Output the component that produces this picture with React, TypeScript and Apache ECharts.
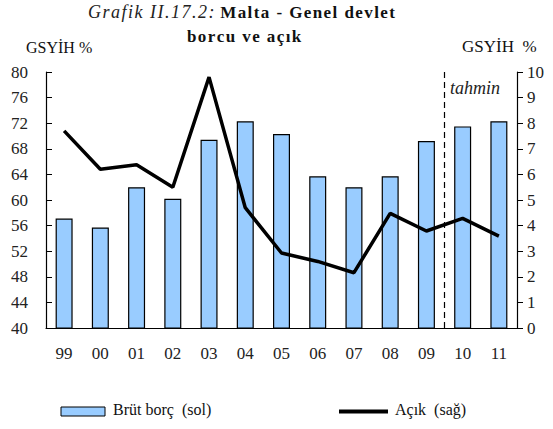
import React, { useEffect, useRef } from "react";
import * as echarts from "echarts";

const categories = ["99", "00", "01", "02", "03", "04", "05", "06", "07", "08", "09", "10", "11"];
const grossDebt = [57.1, 55.7, 62.0, 60.2, 69.4, 72.3, 70.3, 63.7, 62.0, 63.7, 69.2, 71.5, 72.3];
const deficit = [7.7, 6.2, 6.38, 5.5, 9.8, 4.7, 2.93, 2.6, 2.16, 4.48, 3.79, 4.28, 3.59];
const lastActual = "09";
const forecastStart = "10";

const FONT = "'Liberation Serif', 'Times New Roman', serif";
const GRID = { left: 46, right: 36, top: 72, bottom: 101 };
const spaced = (s: string) => s.split("").join("\u200A");

export default function App() {
  const ref = useRef<HTMLDivElement>(null);
  useEffect(() => {
    if (!ref.current) return;
    const chart = echarts.init(ref.current, undefined, { renderer: "svg" });
    const staticGraphics: any[] = [
      {
        type: "text",
        left: 88,
        top: 3,
        style: {
          text: "{i|" + spaced("Grafik II.17.2:") + "}{b|" + spaced(" Malta - Genel devlet") + "}",
          rich: {
            i: { fontFamily: FONT, fontStyle: "italic", fontSize: 18, fill: "#222" },
            b: { fontFamily: FONT, fontWeight: "bold", fontSize: 17, fill: "#111" },
          },
        },
      },
      {
        type: "text",
        left: 187,
        top: 28,
        style: { text: spaced("borcu ve açık"), fontFamily: FONT, fontWeight: "bold", fontSize: 17, fill: "#111" },
      },
      {
        type: "text",
        left: 26,
        top: 39,
        style: { text: "GSYİH %", fontFamily: FONT, fontSize: 16, fill: "#111" },
      },
      {
        type: "text",
        left: 462,
        top: 38,
        style: { text: "GSYİH  %", fontFamily: FONT, fontSize: 17, fill: "#111" },
      },
      {
        type: "text",
        left: 450,
        top: 79,
        style: { text: "tahmin", fontFamily: FONT, fontStyle: "italic", fontSize: 18, fill: "#222" },
      },
      {
        type: "rect",
        shape: { x: 61, y: 407, width: 44, height: 9 },
        style: { fill: "#99ccff", stroke: "#000", lineWidth: 1 },
      },
      {
        type: "text",
        left: 113,
        top: 401,
        style: { text: "Brüt borç  (sol)", fontFamily: FONT, fontSize: 16, fill: "#111" },
      },
      {
        type: "line",
        shape: { x1: 339, y1: 411.5, x2: 388, y2: 411.5 },
        style: { stroke: "#000", lineWidth: 4 },
      },
      {
        type: "text",
        left: 395,
        top: 401,
        style: { text: "Açık  (sağ)", fontFamily: FONT, fontSize: 16, fill: "#111" },
      },
    ];
    chart.setOption({
      animation: false,
      textStyle: { fontFamily: FONT },
      grid: GRID,
      legend: { show: false },
      graphic: staticGraphics,
      xAxis: {
        type: "category",
        data: categories,
        boundaryGap: true,
        axisLine: { lineStyle: { color: "#000", width: 1.2 } },
        axisTick: { inside: true, length: 5, lineStyle: { color: "#000" } },
        axisLabel: { color: "#222", fontSize: 17, fontFamily: FONT, margin: 17 },
      },
      yAxis: [
        {
          type: "value",
          min: 40,
          max: 80,
          interval: 4,
          position: "left",
          splitLine: { show: false },
          axisLine: { show: true, lineStyle: { color: "#000", width: 1.2 } },
          axisTick: { show: true, inside: true, length: 6, lineStyle: { color: "#000" } },
          axisLabel: { color: "#222", fontSize: 17, fontFamily: FONT, margin: 18 },
        },
        {
          type: "value",
          min: 0,
          max: 10,
          interval: 1,
          position: "right",
          splitLine: { show: false },
          axisLine: { show: true, lineStyle: { color: "#000", width: 1.2 } },
          axisTick: { show: true, inside: false, length: 6, lineStyle: { color: "#000" } },
          axisLabel: { color: "#222", fontSize: 17, fontFamily: FONT, margin: 10 },
        },
      ],
      series: [
        {
          name: "Brüt borç (sol)",
          type: "bar",
          data: grossDebt,
          barWidth: 17,
          yAxisIndex: 0,
          itemStyle: { color: "#99ccff", borderColor: "#000", borderWidth: 1.2 },
        },
        {
          name: "Açık (sağ)",
          type: "line",
          data: deficit,
          yAxisIndex: 1,
          symbol: "none",
          lineStyle: { color: "#000", width: 3.5 },
        },
      ],
    });
    const xa = chart.convertToPixel({ xAxisIndex: 0 }, lastActual) as number;
    const xb = chart.convertToPixel({ xAxisIndex: 0 }, forecastStart) as number;
    const yTop = chart.convertToPixel({ yAxisIndex: 0 }, 80) as number;
    const yBot = chart.convertToPixel({ yAxisIndex: 0 }, 40) as number;
    const xDiv = Math.round((xa + xb) / 2) - 0.5;
    chart.setOption({
      graphic: [
        ...staticGraphics,
        {
          type: "line",
          shape: { x1: xDiv, y1: yTop, x2: xDiv, y2: yBot },
          style: { stroke: "#000", lineWidth: 1.2, lineDash: [6, 4] },
        },
      ],
    });
    return () => chart.dispose();
  }, []);
  return (
    <div
      ref={ref}
      style={{ position: "absolute", left: 0, top: 0, width: 553, height: 429 }}
    />
  );
}
